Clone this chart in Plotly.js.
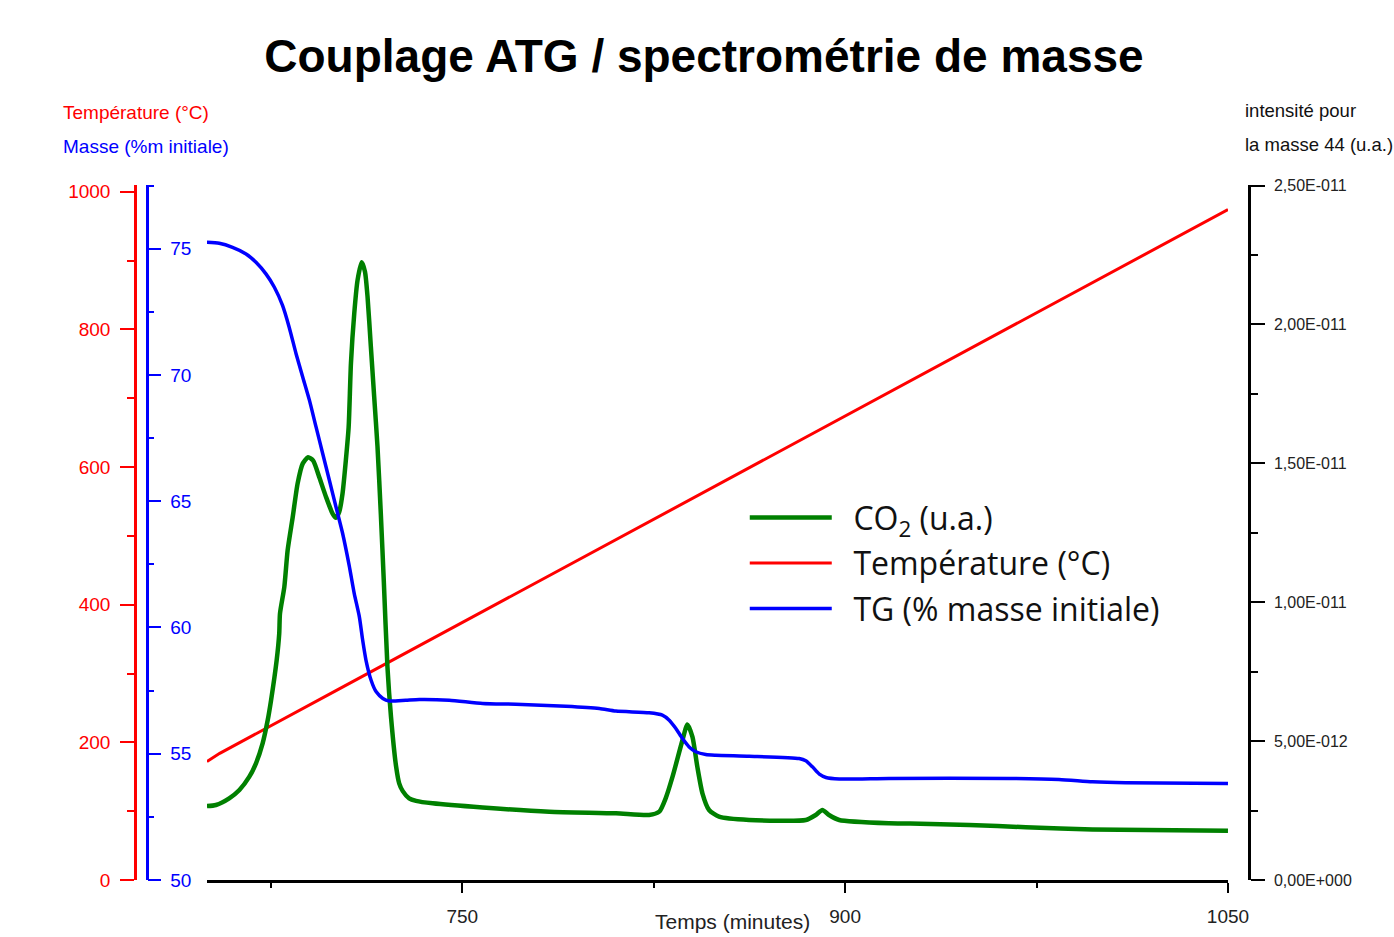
<!DOCTYPE html>
<html>
<head>
<meta charset="utf-8">
<script src="https://cdn.plot.ly/plotly-3.0.1.min.js"></script>
<style>html,body{margin:0;padding:0;background:#fff;}#chart{width:1394px;height:937px;}</style>
</head>
<body>
<div id="chart"></div>
<script>
// Temperature (°C) vs time (min)
const timeT = [650, 655, 700, 750, 800, 850, 900, 950, 1000, 1050];
const temperature = [172, 184, 274, 374, 474, 574, 674, 774, 874, 974];

// CO2 intensity (u.a.) vs time (min)
const timeCO2 = [650, 653.5, 658.7, 662.7, 666.6, 669.2, 671.8, 673.8, 675.1, 677.3,
  678.3, 678.6, 680.3, 681.6, 683.6, 685.5, 687.5, 689.6, 691.6, 694.0,
  696.6, 699.2, 700.5, 701.8, 703.1, 704.4, 705.5, 706.4, 707.7, 709.0,
  710.6, 711.9, 712.9, 714.2, 715.5, 716.8, 718.1, 719.3, 720.7, 722.1,
  724.1, 725.3, 726.7, 729.2, 731.9, 738.4, 758.0, 784.1, 810.2, 823.2,
  827.2, 829.7, 832.4, 836.3, 838.2, 840.2, 842.1, 844.1, 846.7, 850.6,
  862.4, 884.6, 888.5, 891.1, 893.7, 897.7, 917.2, 925.5, 948.6, 970.8,
  996.9, 1050];
const co2 = [2.66e-12, 2.70e-12, 2.94e-12, 3.24e-12, 3.72e-12, 4.20e-12, 4.92e-12, 5.76e-12, 6.47e-12, 7.91e-12,
  8.87e-12, 9.59e-12, 10.55e-12, 11.87e-12, 13.07e-12, 14.27e-12, 14.99e-12, 15.22e-12, 15.1e-12, 14.5e-12,
  13.8e-12, 13.19e-12, 13.04e-12, 13.25e-12, 13.91e-12, 15.1e-12, 16.3e-12, 18.6e-12, 20.4e-12, 21.6e-12,
  22.24e-12, 21.9e-12, 21.0e-12, 19.2e-12, 17.4e-12, 15.6e-12, 13.2e-12, 10.7e-12, 7.67e-12, 5.87e-12,
  4.08e-12, 3.48e-12, 3.20e-12, 2.94e-12, 2.85e-12, 2.76e-12, 2.61e-12, 2.46e-12, 2.40e-12, 2.34e-12,
  2.46e-12, 2.94e-12, 3.72e-12, 5.04e-12, 5.60e-12, 5.15e-12, 4.08e-12, 3.12e-12, 2.52e-12, 2.28e-12,
  2.16e-12, 2.16e-12, 2.34e-12, 2.52e-12, 2.34e-12, 2.16e-12, 2.04e-12, 2.03e-12, 1.98e-12, 1.90e-12,
  1.82e-12, 1.77e-12];

// TG mass (% initial mass) vs time (min)
const timeTG = [650, 654.8, 660.0, 665.3, 669.2, 673.1, 676.4, 679.6, 682.2, 684.9,
  687.5, 690.1, 692.7, 695.3, 697.9, 700.5, 703.1, 705.7, 707.7, 709.7,
  711.0, 712.3, 714.3, 716.3, 718.9, 721.4, 727.9, 733.2, 744.9, 758.0,
  771.0, 790.6, 803.7, 810.2, 823.2, 828.4, 831.1, 833.7, 836.3, 838.9,
  841.5, 845.4, 849.3, 862.4, 882.0, 884.6, 887.2, 889.9, 892.5, 897.7,
  917.2, 964.7, 983.8, 996.9, 1009.9, 1050];
const massTG = [75.25, 75.21, 75.05, 74.79, 74.46, 74.0, 73.47, 72.75, 71.89, 70.84,
  69.92, 69.01, 67.95, 66.9, 65.85, 64.79, 63.74, 62.46, 61.34, 60.42,
  59.49, 58.70, 57.91, 57.45, 57.19, 57.09, 57.12, 57.15, 57.12, 56.99,
  56.96, 56.88, 56.79, 56.69, 56.62, 56.53, 56.33, 56.0, 55.6, 55.27,
  55.08, 54.97, 54.94, 54.9, 54.81, 54.72, 54.48, 54.19, 54.06, 54.0,
  54.02, 54.02, 53.98, 53.89, 53.85, 53.82];

// Right axis tick labels
const co2TickVals = [0, 5e-12, 1e-11, 1.5e-11, 2e-11, 2.5e-11];
const co2TickText = ["0,00E+000", "5,00E-012", "1,00E-011", "1,50E-011", "2,00E-011", "2,50E-011"];

const AX = "Liberation Sans, Arial, sans-serif";
const GAP = '\u00a0\u00a0';

const traces = [
  {x: timeT, y: temperature, yaxis: 'y', type: 'scatter', mode: 'lines',
   name: GAP + 'Température (°C)', legendrank: 2, legendgroup: 'b',
   line: {color: '#ff0000', width: 3}},
  {x: timeCO2, y: co2, yaxis: 'y2', type: 'scatter', mode: 'lines',
   name: GAP + 'CO<sub>2</sub> (u.a.)', legendrank: 1, legendgroup: 'a',
   line: {color: '#008000', width: 4.5, shape: 'spline', smoothing: 0.6}},
  {x: timeTG, y: massTG, yaxis: 'y3', type: 'scatter', mode: 'lines',
   name: GAP + 'TG (% masse initiale)', legendrank: 3, legendgroup: 'c',
   line: {color: '#0000ff', width: 3.5, shape: 'spline', smoothing: 0.6}}
];

const layout = {
  width: 1394, height: 937,
  margin: {l: 100, r: 100, t: 185, b: 57},
  paper_bgcolor: '#ffffff', plot_bgcolor: '#ffffff',
  title: {text: 'Couplage ATG / spectrométrie de masse', xref: 'container', yref: 'container',
          x: 0.505, y: 0.9402, xanchor: 'center', yanchor: 'middle',
          font: {family: AX, size: 46, color: '#000', weight: 'bold'}},
  showlegend: true,
  legend: {x: 0.54, y: 0.561, xanchor: 'left', yanchor: 'top', bgcolor: 'rgba(0,0,0,0)',
           font: {family: 'Open Sans, sans-serif', size: 32, color: '#111'},
           traceorder: 'grouped', tracegroupgap: 1, itemwidth: 82},
  xaxis: {domain: [0.0896, 0.9447], range: [650, 1050], anchor: 'y',
          tick0: 750, dtick: 150, ticks: 'outside', ticklen: 10, tickwidth: 2, tickcolor: '#000',
          showline: true, linecolor: '#000', linewidth: 2.5, showgrid: false, zeroline: false,
          tickfont: {family: AX, size: 19, color: '#222'}, ticklabelstandoff: 7,
          minor: {tick0: 750, dtick: 75, ticks: 'outside', ticklen: 5, tickwidth: 2, tickcolor: '#000', showgrid: false}},
  yaxis: {anchor: 'free', position: 0.0293, side: 'left', range: [0, 1009.7],
          tick0: 0, dtick: 200, ticks: 'outside', ticklen: 14, tickwidth: 2, tickcolor: '#ff0000',
          showline: true, linecolor: '#ff0000', linewidth: 2.5, showgrid: false, zeroline: false,
          tickfont: {family: AX, size: 19, color: '#ff0000'}, ticklabelstandoff: 6,
          minor: {tick0: 0, dtick: 100, ticks: 'outside', ticklen: 7, tickwidth: 2, tickcolor: '#ff0000', showgrid: false}},
  yaxis2: {overlaying: 'y', anchor: 'free', position: 0.9623, side: 'right', range: [0, 2.5e-11 * 1.0008],
           tickmode: 'array', tickvals: co2TickVals, ticktext: co2TickText,
           ticks: 'outside', ticklen: 14, tickwidth: 2, tickcolor: '#000',
           showline: true, linecolor: '#000', linewidth: 2.5, showgrid: false, zeroline: false,
           tickfont: {family: AX, size: 16, color: '#222'}, ticklabelstandoff: 6,
           minor: {tickmode: 'linear', tick0: 0, dtick: 2.5e-12, ticks: 'outside', ticklen: 7, tickwidth: 2, tickcolor: '#000', showgrid: false}},
  yaxis3: {overlaying: 'y', anchor: 'free', position: 0.0391, side: 'right', range: [50, 77.52],
           tick0: 50, dtick: 5, ticks: 'outside', ticklen: 13, tickwidth: 2, tickcolor: '#0000ff',
           showline: true, linecolor: '#0000ff', linewidth: 2.5, showgrid: false, zeroline: false,
           tickfont: {family: AX, size: 19, color: '#0000ff'}, ticklabelstandoff: 5,
           minor: {tick0: 50, dtick: 2.5, ticks: 'outside', ticklen: 6, tickwidth: 2, tickcolor: '#0000ff', showgrid: false}},
  annotations: [
    {text: 'Température (°C)', xref: 'paper', yref: 'paper', x: -0.0327, y: 1.105, xanchor: 'left', yanchor: 'middle',
     showarrow: false, font: {family: AX, size: 19, color: '#ff0000'}},
    {text: 'Masse (%m initiale)', xref: 'paper', yref: 'paper', x: -0.0327, y: 1.0547, xanchor: 'left', yanchor: 'middle',
     showarrow: false, font: {family: AX, size: 19, color: '#0000ff'}},
    {text: 'intensité pour', xref: 'paper', yref: 'paper', x: 0.9573, y: 1.1079, xanchor: 'left', yanchor: 'middle',
     showarrow: false, font: {family: AX, size: 18.5, color: '#111'}},
    {text: 'la masse 44 (u.a.)', xref: 'paper', yref: 'paper', x: 0.9573, y: 1.0576, xanchor: 'left', yanchor: 'middle',
     showarrow: false, font: {family: AX, size: 18.5, color: '#111'}},
    {text: 'Temps (minutes)', xref: 'paper', yref: 'paper', x: 0.530, y: -0.0604, xanchor: 'center', yanchor: 'middle',
     showarrow: false, font: {family: AX, size: 21, color: '#222'}}
  ]
};

Plotly.newPlot('chart', traces, layout, {displayModeBar: false, responsive: false});
</script>
</body>
</html>
